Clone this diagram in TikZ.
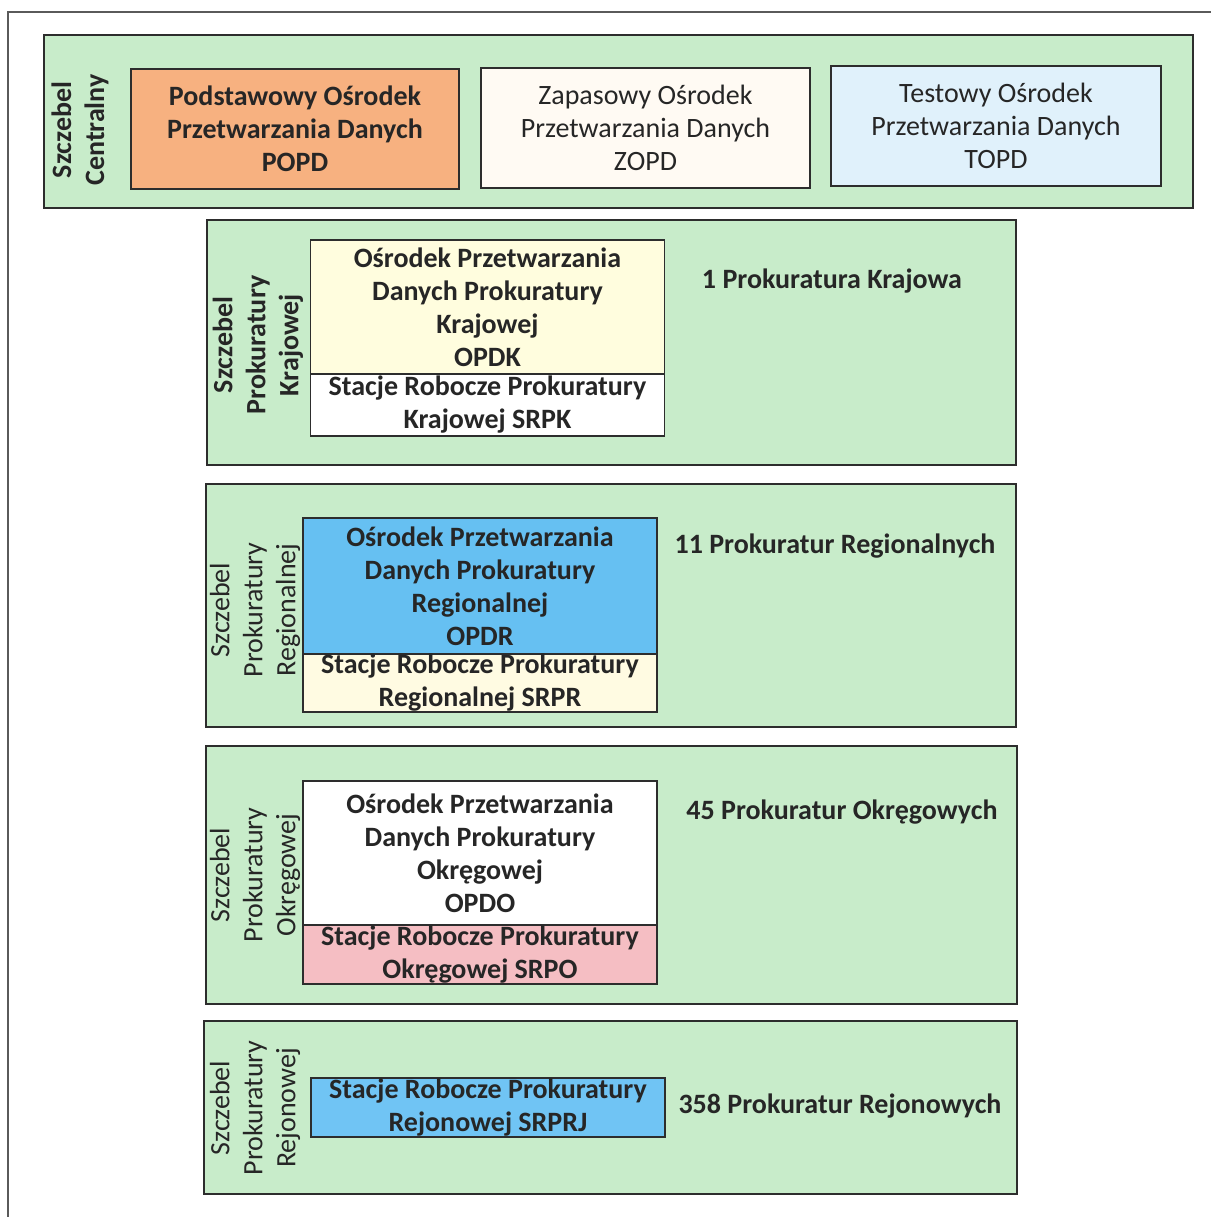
\documentclass[tikz,border=0pt]{standalone}
\usepackage{fontspec}
\setmainfont{Carlito}
\usetikzlibrary{positioning}

\definecolor{bandgreen}{RGB}{200,236,202}
\definecolor{frameline}{RGB}{90,90,90}
\definecolor{boxline}{RGB}{45,45,45}
\definecolor{txt}{RGB}{38,38,38}
\definecolor{popdfill}{RGB}{247,177,128}
\definecolor{zopdfill}{RGB}{255,250,243}
\definecolor{topdfill}{RGB}{224,241,251}
\definecolor{opdkfill}{RGB}{255,253,222}
\definecolor{opdrfill}{RGB}{102,192,242}
\definecolor{srprfill}{RGB}{255,251,226}
\definecolor{srpofill}{RGB}{245,190,195}
\definecolor{srprjfill}{RGB}{112,196,244}

\begin{document}
\begin{tikzpicture}[x=0.5pt,y=0.5pt,yscale=-1,xscale=1,
  band/.style={draw=boxline,line width=0.9pt,fill=bandgreen,inner sep=0pt},
  unitbox/.style={draw=boxline,line width=0.9pt,align=center,text=txt,inner sep=0pt,outer sep=0pt,
    font=\fontsize{14}{16.5}\selectfont\bfseries,minimum width=177pt},
  levellabel/.style={rotate=90,align=center,text=txt,inner sep=0pt,
    font=\fontsize{14}{16.5}\selectfont},
  countlabel/.style={text=txt,inner sep=0pt,font=\fontsize{14}{16}\selectfont\bfseries}]
\useasboundingbox (0,0) rectangle (1211,1217);

%Frame
\draw [frameline,line width=0.9pt] (1211,12) -- (8,12) -- (8,1217) ;

%Szczebel Centralny
\node [band,minimum width=574.5pt,minimum height=86.5pt] (central) at (618.5,121.5) {};
\node [unitbox,fill=popdfill,minimum width=164pt,minimum height=60pt] (popd) at (295,129) {Podstawowy Ośrodek\\Przetwarzania Danych\\POPD};
\node [unitbox,fill=zopdfill,font=\fontsize{14}{16.5}\selectfont,minimum width=164.5pt,minimum height=60pt] (zopd) at (645.5,128) {Zapasowy Ośrodek\\Przetwarzania Danych\\ZOPD};
\node [unitbox,fill=topdfill,font=\fontsize{14}{16.5}\selectfont,minimum width=165pt,minimum height=60pt] (topd) at (996,126) {Testowy Ośrodek\\Przetwarzania Danych\\TOPD};
\node [levellabel,font=\fontsize{14}{16.5}\selectfont\bfseries] (lcentral) at (80,130) {Szczebel\\Centralny};

%Szczebel Prokuratury Krajowej
\node [band,minimum width=404.5pt,minimum height=122.5pt] (krajowa) at (611.5,342.5) {};
\node [unitbox,fill=opdkfill,minimum height=67pt] (opdk) at (487.5,307) {Ośrodek Przetwarzania\\Danych Prokuratury\\Krajowej\\OPDK};
\node [unitbox,fill=white,minimum height=31pt,below=0pt of opdk] (srpk) {Stacje Robocze Prokuratury\\Krajowej SRPK};
\node [levellabel,font=\fontsize{14}{16.5}\selectfont\bfseries] (lkrajowa) at (258,345) {Szczebel\\Prokuratury\\Krajowej};
\node [countlabel] (nkrajowa) at (832,281) {1 Prokuratura Krajowa};

%Szczebel Prokuratury Regionalnej
\node [band,minimum width=405pt,minimum height=121.5pt] (regionalna) at (611,605.5) {};
\node [unitbox,fill=opdrfill,minimum height=68pt] (opdr) at (480,586) {Ośrodek Przetwarzania\\Danych Prokuratury\\Regionalnej\\OPDR};
\node [unitbox,fill=srprfill,minimum height=29pt,below=0pt of opdr] (srpr) {Stacje Robocze Prokuratury\\Regionalnej SRPR};
\node [levellabel] (lregionalna) at (255,610) {Szczebel\\Prokuratury\\Regionalnej};
\node [countlabel] (nregionalna) at (835,546) {11 Prokuratur Regionalnych};

%Szczebel Prokuratury Okregowej
\node [band,minimum width=405.5pt,minimum height=129pt] (okregowa) at (611.5,875) {};
\node [unitbox,fill=white,minimum height=72pt] (opdo) at (480,853) {Ośrodek Przetwarzania\\Danych Prokuratury\\Okręgowej\\OPDO};
\node [unitbox,fill=srpofill,minimum height=29.5pt,below=0pt of opdo] (srpo) {Stacje Robocze Prokuratury\\Okręgowej SRPO};
\node [levellabel] (lokregowa) at (255,875) {Szczebel\\Prokuratury\\Okręgowej};
\node [countlabel] (nokregowa) at (842,812) {45 Prokuratur Okręgowych};

%Szczebel Prokuratury Rejonowej
\node [band,minimum width=406.5pt,minimum height=86.5pt] (rejonowa) at (610.5,1107.5) {};
\node [unitbox,fill=srprjfill,minimum height=29.5pt] (srprj) at (488,1107.5) {Stacje Robocze Prokuratury\\Rejonowej SRPRJ};
\node [levellabel] (lrejonowa) at (255,1108) {Szczebel\\Prokuratury\\Rejonowej};
\node [countlabel] (nrejonowa) at (840,1106) {358 Prokuratur Rejonowych};

\end{tikzpicture}
\end{document}
